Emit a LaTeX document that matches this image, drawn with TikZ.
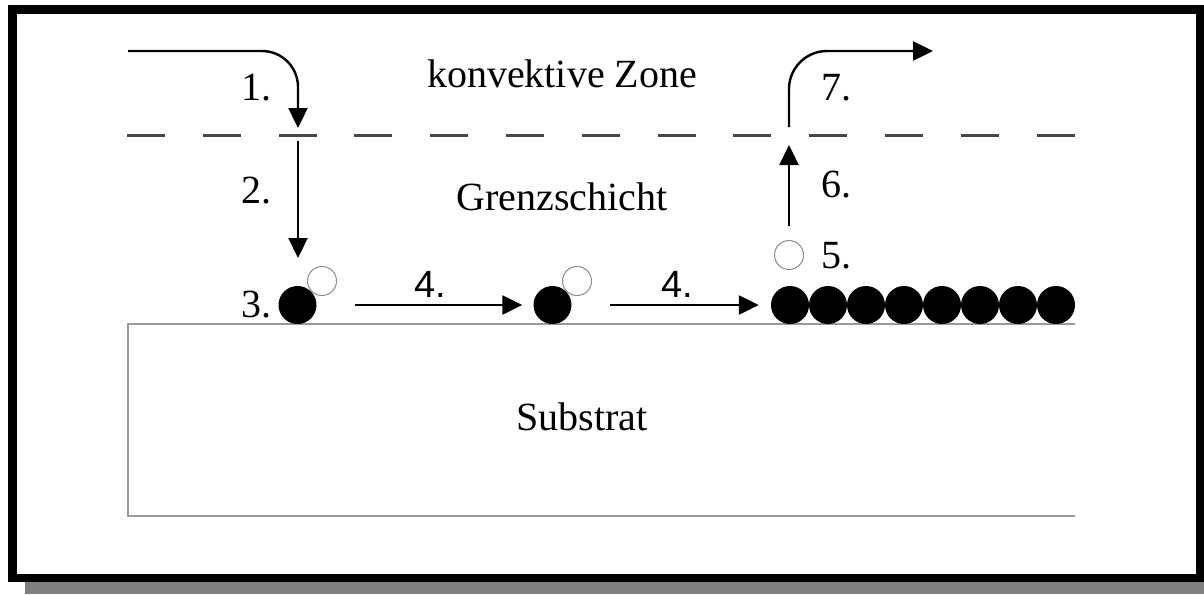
\documentclass[tikz,border=0pt]{standalone}
\usepackage{fontspec}
\setmainfont{Liberation Serif}
\newfontfamily\numsans{Liberation Sans}
\usetikzlibrary{arrows.meta}

\begin{document}
\begin{tikzpicture}[x=1pt,y=-1pt,
  flow/.style={line width=2.4pt, -{Triangle[width=19pt,length=20pt]}},
  lbl/.style={inner sep=0pt, anchor=base, font=\fontsize{40}{48}\selectfont},
  atom/.style={circle, fill=black, minimum size=38pt, inner sep=0pt},
  freeatom/.style={circle, draw=black!45, line width=1pt, fill=white, minimum size=29pt, inner sep=0pt},
  zoneline/.style={dash pattern=on 38pt off 37.8pt, line width=3pt, draw=black!72},
  substrate/.style={draw=black!40, line width=1.6pt},
]
\useasboundingbox (0,0) rectangle (1204,594);

% frame with drop shadow
\fill[black!50] (25,20) rectangle (1204,594);
\draw[line width=8.5pt, fill=white] (12.5,9.5) rectangle (1200,578);

% boundary between convective zone and boundary layer
\draw[zoneline] (127,135) -- (1075,135);

% substrate block, open to the right
\draw[substrate] (1075,324) -- (128,324) -- (128,516) -- (1075,516);

% zone labels
\node[lbl] (konv) at (562,87) {konvektive Zone};
\node[lbl] (grenz) at (562,210) {Grenzschicht};
\node[lbl] (subst) at (582,430) {Substrat};

% adsorbed atoms with their free partners
\node[atom] (a1) at (297.5,305) {};
\node[freeatom] (f1) at (322,281) {};
\node[atom] (a2) at (552.5,305) {};
\node[freeatom] (f2) at (577,281) {};

% grown layer
\foreach \k in {0,...,7}
  \node[atom] (r\k) at ({790+38*\k},305) {};
\node[freeatom] (f5) at (789,255) {};

% path points of the transport arrows
\coordinate (in0) at (128,51);
\coordinate (in1) at (298,51);
\coordinate (in2) at (298,128);
\coordinate (dn0) at (298,141);
\coordinate (dn1) at (298,258);
\coordinate (up0) at (789,226);
\coordinate (up1) at (789,145);
\coordinate (out0) at (789,127);
\coordinate (out1) at (789,51);
\coordinate (out2) at (933,51);
\coordinate (s1) at (355,305);
\coordinate (s2) at (610,305);

% 1. transport to the boundary layer
\draw[flow, rounded corners=36pt] (in0) -- (in1) -- (in2);
% 2. diffusion through the boundary layer
\draw[flow] (dn0) -- (dn1);
% 4. surface diffusion
\draw[flow] (s1) -- ([xshift=-11pt]a2.west);
\draw[flow] (s2) -- ([xshift=-12pt]r0.west);
% 6. desorption into the boundary layer
\draw[flow] (up0) -- (up1);
% 7. removal by convection
\draw[flow, rounded corners=38pt] (out0) -- (out1) -- (out2);

% step numbers
\node[lbl] (n1) at (256,100) {1.};
\node[lbl] (n2) at (256,203) {2.};
\node[lbl] (n3) at (256,317) {3.};
\node[lbl, font=\numsans\fontsize{38}{46}\selectfont] (n4a) at (430,297) {4.};
\node[lbl, font=\numsans\fontsize{38}{46}\selectfont] (n4b) at (677,297) {4.};
\node[lbl] (n5) at (836,268) {5.};
\node[lbl] (n6) at (836,197) {6.};
\node[lbl] (n7) at (836,100) {7.};
\end{tikzpicture}
\end{document}
